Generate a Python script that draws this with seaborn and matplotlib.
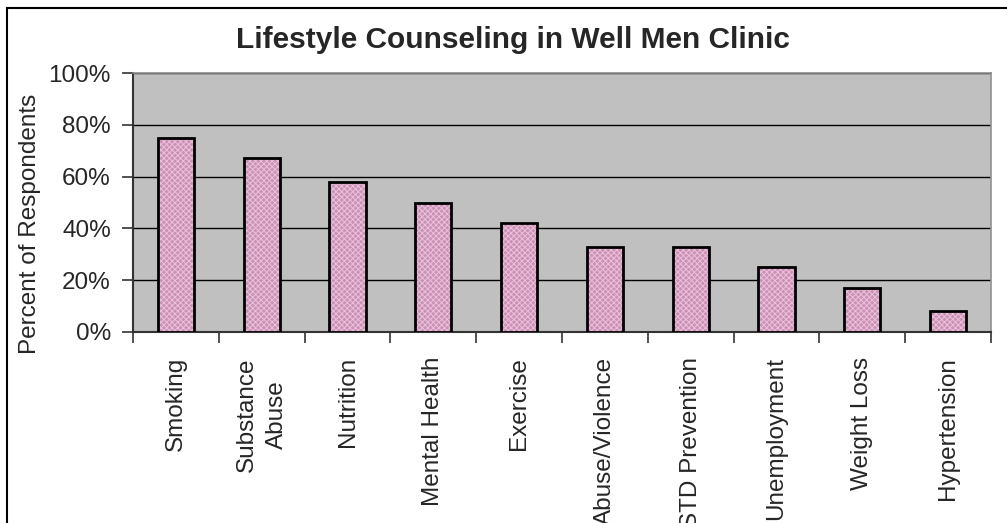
import matplotlib
matplotlib.use("Agg")
import matplotlib.pyplot as plt
import seaborn as sns
import pandas as pd
from matplotlib.patches import Rectangle
from matplotlib.ticker import PercentFormatter, MultipleLocator, FixedLocator

# data
topics = ["Smoking", "Substance\nAbuse", "Nutrition", "Mental Health", "Exercise",
          "Abuse/Violence", "STD Prevention", "Unemployment", "Weight Loss", "Hypertension"]
percents = [75, 67, 58, 50, 42, 33, 33, 25, 17, 8]

df = pd.DataFrame({"Topic": topics, "Percent": percents})

sns.set_style("ticks")
plt.rcParams["font.family"] = ["Liberation Sans", "DejaVu Sans"]
plt.rcParams["hatch.linewidth"] = 0.7

W, H = 1007, 523
fig = plt.figure(figsize=(W / 100, H / 100), dpi=100)
ax = fig.add_axes([133 / W, (H - 332) / H, (991 - 133) / W, (332 - 73) / H])
ax.set_facecolor("#C0C0C0")

# hatched pink fill, then black outlines on top
sns.barplot(data=df, x="Topic", y="Percent", color="#CD90B5", width=0.42,
            edgecolor="#E8C2DA", linewidth=0, hatch="xxxxxx", saturation=1, ax=ax, zorder=3)
sns.barplot(data=df, x="Topic", y="Percent", fill=False, width=0.42,
            edgecolor="black", linewidth=2, ax=ax, zorder=4)

ax.set_ylim(0, 100)
ax.set_xlim(-0.5, len(topics) - 0.5)
ax.yaxis.set_major_locator(MultipleLocator(20))
ax.yaxis.set_major_formatter(PercentFormatter(xmax=100, decimals=0))
ax.grid(axis="y", color="black", linewidth=1, zorder=1)
ax.set_axisbelow(True)

# ticks between categories, labels at centres
ax.xaxis.set_minor_locator(FixedLocator([i - 0.5 for i in range(len(topics) + 1)]))
ax.tick_params(axis="x", which="major", length=0, pad=18, labelsize=17.5)
ax.tick_params(axis="x", which="minor", length=8, width=1.2, color="#333333")
ax.tick_params(axis="y", length=8, width=1.2, color="#333333", labelsize=17.5, pad=8)
for lbl in ax.get_xticklabels():
    lbl.set_rotation(90)
    lbl.set_va("top")
    lbl.set_ha("center")
    lbl.set_multialignment("center")
    lbl.set_linespacing(1.5)

ax.set_xlabel("")
ax.set_ylabel("")
for side in ["left", "bottom"]:
    ax.spines[side].set_color("#333333")
    ax.spines[side].set_linewidth(1.5)
for side in ["top", "right"]:
    ax.spines[side].set_color("#909090")
    ax.spines[side].set_linewidth(1.2)

fig.text(513 / W, 1 - 40 / H, "Lifestyle Counseling in Well Men Clinic",
         ha="center", va="center", fontsize=21.5, fontweight="bold")
fig.text(30 / W, 1 - 224 / H, "Percent of Respondents", rotation=90,
         ha="center", va="center", fontsize=17.5)

# chart area border (runs past the right and bottom edges)
fig.patches.append(Rectangle((7 / W, -0.1), 1.2, (H - 8) / H + 0.1, fill=False,
                             edgecolor="black", linewidth=1.5, transform=fig.transFigure))

fig.savefig("out.png", dpi=100)
